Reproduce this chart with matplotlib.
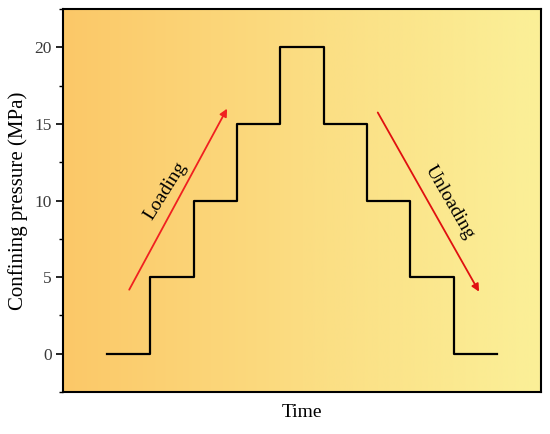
import numpy as np
import matplotlib
matplotlib.use("Agg")
import matplotlib.pyplot as plt
from matplotlib.colors import LinearSegmentedColormap

# Data
time_edges = [0, 1, 2, 3, 4, 5, 6, 7, 8, 9]
pressure = [0, 5, 10, 15, 20, 15, 10, 5, 0, 0]
yticks = [0, 5, 10, 15, 20]

plt.rcParams['font.family'] = ['Liberation Serif', 'DejaVu Serif']

fig = plt.figure(figsize=(5.5, 4.34), dpi=100)
ax = fig.add_axes([0.1145, 0.0968, 0.8691, 0.8822])

# gradient background
cmap = LinearSegmentedColormap.from_list('bg', ['#FCC868', '#FBDD82', '#FBF098'])
grad = np.linspace(0, 1, 256).reshape(1, -1)
ax.imshow(grad, aspect='auto', cmap=cmap, extent=[0, 1, 0, 1],
          transform=ax.transAxes, zorder=0)

ax.step(time_edges, pressure, where='post', color='black', lw=1.6, zorder=3)

ax.set_xlim(-1.02, 10.02)
ax.set_ylim(-2.5, 22.5)
ax.set_xticks([])
ax.set_yticks(yticks)
ax.set_yticks([-2.5, 2.5, 7.5, 12.5, 17.5, 22.5], minor=True)
ax.tick_params(axis='y', which='major', direction='out', length=5, width=1.2,
               labelsize=12.5, labelcolor='#3a3a3a', pad=3)
ax.tick_params(axis='y', which='minor', direction='out', length=3, width=1.0)
for s in ax.spines.values():
    s.set_linewidth(1.5)

ax.set_ylabel('Confining pressure (MPa)', fontsize=15, labelpad=5)
ax.set_xlabel('Time', fontsize=14, labelpad=9)

ax.annotate('', xy=(2.77, 16.0), xytext=(0.51, 4.18),
            arrowprops=dict(arrowstyle='-|>', color='#F02020', lw=1.3,
                            mutation_scale=11, shrinkA=0, shrinkB=0), zorder=4)
ax.annotate('', xy=(8.59, 4.05), xytext=(6.25, 15.75),
            arrowprops=dict(arrowstyle='-|>', color='#E01010', lw=1.3,
                            mutation_scale=11, shrinkA=0, shrinkB=0), zorder=4)

ax.text(1.34, 10.6, 'Loading', rotation=58, fontsize=14,
        ha='center', va='center', rotation_mode='anchor')
ax.text(7.92, 9.87, 'Unloading', rotation=-60, fontsize=14,
        ha='center', va='center', rotation_mode='anchor')

fig.savefig('out.png', dpi=100)
